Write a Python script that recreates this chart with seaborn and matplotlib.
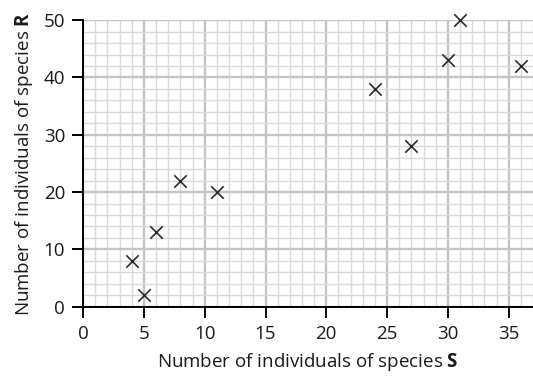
import seaborn as sns
import numpy as np
import pandas as pd
import matplotlib
matplotlib.use('Agg')
import matplotlib.pyplot as plt
from matplotlib.ticker import MultipleLocator

# данные с графика
species_s = [4, 5, 6, 8, 11, 24, 27, 30, 31, 36]
species_r = [8, 2, 13, 22, 20, 38, 28, 43, 50, 42]

df = pd.DataFrame({'S': species_s, 'R': species_r})

sns.set_style('white')
plt.rcParams['font.family'] = ['Open Sans', 'DejaVu Sans']
plt.rcParams['mathtext.fontset'] = 'custom'
plt.rcParams['mathtext.bf'] = 'Open Sans:bold'

fig = plt.figure(figsize=(5.33, 3.8), dpi=100)
ax = fig.add_axes([0.156, 0.193, 0.844, 0.754])

ax.set_xlim(0, 37)
ax.set_ylim(0, 50)
ax.xaxis.set_major_locator(MultipleLocator(5))
ax.xaxis.set_minor_locator(MultipleLocator(1))
ax.yaxis.set_major_locator(MultipleLocator(10))
ax.yaxis.set_minor_locator(MultipleLocator(2))

ax.grid(which='minor', color='#d9d9d9', linewidth=1.0)
ax.grid(which='major', color='#c4c4c4', linewidth=1.7)
ax.set_axisbelow(True)

sns.scatterplot(data=df, x='S', y='R', marker='x', s=80, color='#2a2a2a',
                linewidth=1.2, ax=ax, clip_on=False, zorder=5)

for side in ['top', 'right']:
    ax.spines[side].set_visible(False)
for side in ['left', 'bottom']:
    ax.spines[side].set_color('black')
    ax.spines[side].set_linewidth(1.4)

ax.tick_params(which='major', direction='out', length=8, width=1.4, color='black',
               labelsize=13.5, labelcolor='#1a1a1a', left=True, bottom=True, pad=5)
ax.tick_params(which='minor', length=0)

ax.set_xlabel(r'Number of individuals of species $\mathbf{S}$', fontsize=13.5,
              color='#1a1a1a', labelpad=6)
ax.set_ylabel(r'Number of individuals of species $\mathbf{R}$', fontsize=13.5,
              color='#1a1a1a', labelpad=6)

plt.savefig('out.png', dpi=100)
